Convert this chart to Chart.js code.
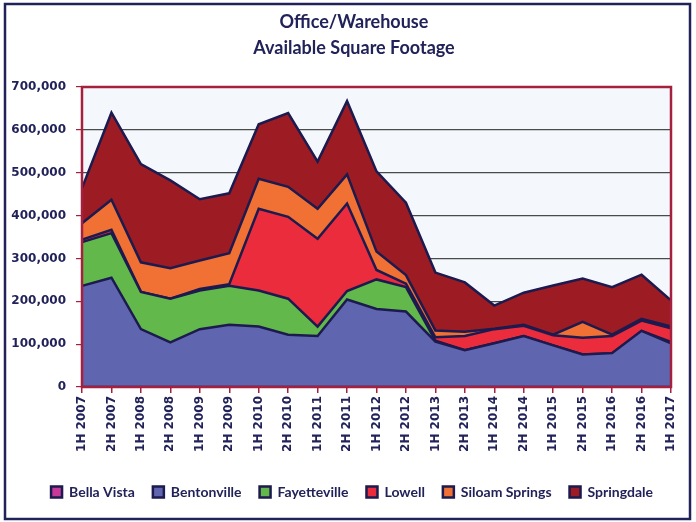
<!DOCTYPE html>
<html>
<head>
<meta charset="utf-8">
<script src="https://cdn.jsdelivr.net/npm/chart.js@4.4.1/dist/chart.umd.min.js"></script>
<style>
  html, body { margin: 0; padding: 0; background: #ffffff; }
  #wrap { width: 696px; height: 522px; }
</style>
</head>
<body>
<div id="wrap"><canvas id="myChart" width="696" height="522"></canvas></div>
<script>
const periods = ['1H 2007', '2H 2007', '1H 2008', '2H 2008', '1H 2009', '2H 2009', '1H 2010',
    '2H 2010', '1H 2011', '2H 2011', '1H 2012', '2H 2012', '1H 2013', '2H 2013', '1H 2014',
    '2H 2014', '1H 2015', '2H 2015', '1H 2016', '2H 2016', '1H 2017'];

const bellaVista = [0, 0, 0, 0, 0, 0, 0, 0, 0, 0, 0, 0, 0, 0, 0, 0, 0, 0, 0, 0, 0];
const bentonville = [236000, 255000, 135000, 104000, 135000, 145000, 141000, 122000, 119000, 204000, 182000,
    176000, 106000, 86000, 102000, 119000, 97000, 76000, 79000, 131000, 102000];
const fayetteville = [102000, 104000, 87000, 102000, 90000, 91000, 84000, 84000, 22000, 20000, 69000,
    57000, 2000, 0, 0, 0, 0, 0, 0, 0, 3000];
const lowell = [6000, 8000, 0, 0, 4000, 4000, 191000, 191000, 205000, 204000, 22000,
    8000, 8000, 33000, 33000, 24000, 24000, 39000, 40000, 24000, 32000];
const siloamSprings = [38000, 70000, 69000, 71000, 66000, 72000, 70000, 70000, 70000, 68000, 43000,
    20000, 16000, 10000, 1000, 2000, 1000, 37000, 3000, 4000, 4000];
const springdale = [82000, 203000, 229000, 205000, 143000, 140000, 127000, 172000, 110000, 171000, 187000,
    169000, 135000, 115000, 54000, 75000, 115000, 101000, 111000, 103000, 61000];

const yTicks = [0, 100000, 200000, 300000, 400000, 500000, 600000, 700000];
const titleLines = ['Office/Warehouse', 'Available Square Footage'];

const navy = '#22225a';
const plotRed = '#a5203f';

// background, outer frame, plot border and the two-line title
const frameAndBackground = {
    id: 'frameAndBackground',
    beforeDraw(chart) {
        const c = chart.ctx;
        const a = chart.chartArea;
        c.save();
        c.fillStyle = '#f4f8fd';
        c.fillRect(a.left, a.top, a.right - a.left, a.bottom - a.top);
        c.strokeStyle = navy;
        c.lineWidth = 2.5;
        c.strokeRect(5, 4, 685, 515);
        c.fillStyle = navy;
        c.font = 'bold 18px Lato';
        c.textAlign = 'center';
        c.textBaseline = 'middle';
        c.fillText(titleLines[0], 354, 22);
        c.fillText(titleLines[1], 354, 48);
        c.restore();
    },
    afterDatasetsDraw(chart) {
        const c = chart.ctx;
        const a = chart.chartArea;
        c.save();
        c.strokeStyle = plotRed;
        c.lineWidth = 2.5;
        c.strokeRect(a.left, a.top, a.right - a.left, a.bottom - a.top);
        c.restore();
    }
};

function area(label, data, color, fill) {
    return {
        label: label,
        data: data,
        backgroundColor: color,
        borderColor: '#1c1a4e',
        borderWidth: 2.5,
        pointRadius: 0,
        tension: 0,
        fill: fill
    };
}

const ctx = document.getElementById('myChart').getContext('2d');
const myChart = new Chart(ctx, {
    type: 'line',
    data: {
        labels: periods,
        datasets: [
            area('Bella Vista', bellaVista, '#c8399a', 'origin'),
            area('Bentonville', bentonville, '#5f66af', '-1'),
            area('Fayetteville', fayetteville, '#62b84a', '-1'),
            area('Lowell', lowell, '#ea2c3d', '-1'),
            area('Siloam Springs', siloamSprings, '#f17034', '-1'),
            area('Springdale', springdale, '#9d1c23', '-1')
        ]
    },
    options: {
        responsive: false,
        animation: false,
        layout: {
            padding: { left: 8, right: 25, top: 87, bottom: 13 }
        },
        scales: {
            y: {
                stacked: true,
                min: 0,
                max: 700000,
                afterFit: function(scale) { scale.width = 74; },
                afterBuildTicks: function(scale) {
                    scale.ticks = yTicks.map(v => ({ value: v }));
                },
                border: { display: false },
                grid: {
                    color: function(c) {
                        return (c.tick.value === 0 || c.tick.value === 700000) ? 'rgba(0,0,0,0)' : '#4a4a4a';
                    },
                    lineWidth: 1.2,
                    tickColor: plotRed,
                    tickLength: 6,
                    drawTicks: true
                },
                ticks: {
                    padding: 10,
                    color: navy,
                    font: { family: 'DejaVu Sans', weight: 'bold', size: 12 },
                    callback: function(v) { return v.toLocaleString('en-US'); }
                }
            },
            x: {
                offset: false,
                afterFit: function(scale) { scale.height = 80; },
                border: { display: false },
                grid: {
                    drawOnChartArea: false,
                    drawTicks: true,
                    tickLength: 6,
                    tickColor: plotRed,
                    lineWidth: 1.5
                },
                ticks: {
                    autoSkip: false,
                    minRotation: 90,
                    maxRotation: 90,
                    padding: 3,
                    color: navy,
                    font: { family: 'DejaVu Sans', weight: 'bold', size: 12 }
                }
            }
        },
        plugins: {
            title: { display: false },
            legend: {
                display: true,
                position: 'bottom',
                align: 'end',
                labels: {
                    boxWidth: 11,
                    boxHeight: 11,
                    padding: 18,
                    color: navy,
                    font: { family: 'Lato', weight: 'bold', size: 14 }
                }
            },
            tooltip: { enabled: false }
        }
    },
    plugins: [frameAndBackground]
});
</script>
</body>
</html>
